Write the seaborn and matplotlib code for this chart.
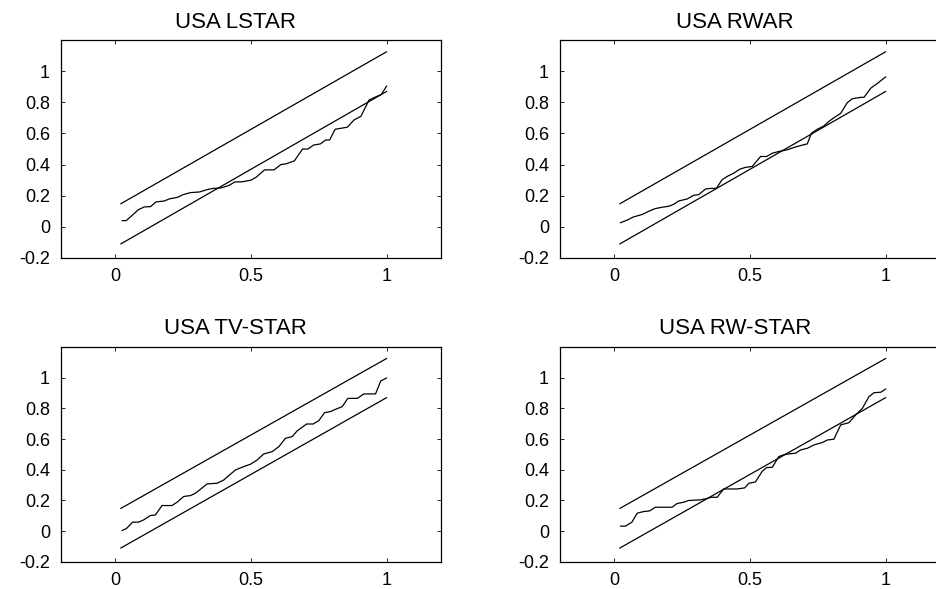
# -*- coding: utf-8 -*-
"""
Periodogrammes cumules (USA) avec bandes de confiance - 4 modeles.
"""

import matplotlib
matplotlib.use("Agg")
import matplotlib.pyplot as plt
import seaborn as sns
import pandas as pd

# Bandes de confiance (extremites des droites)
BAND_X     = [0.02, 1.0]
BAND_UPPER = [0.148, 1.125]
BAND_LOWER = [-0.11, 0.87]

# USA LSTAR
lstar_x = [0.025, 0.04, 0.06, 0.085, 0.107, 0.13, 0.15, 0.18, 0.2, 0.23, 0.25, 0.277,
           0.31, 0.34, 0.36, 0.39, 0.42, 0.44, 0.47, 0.5, 0.52, 0.55, 0.585, 0.61,
           0.63, 0.66, 0.69, 0.71, 0.73, 0.756, 0.775, 0.79, 0.81, 0.855, 0.88,
           0.905, 0.935, 0.96, 0.98, 1.0]
lstar_y = [0.04, 0.04, 0.07, 0.11, 0.128, 0.13, 0.16, 0.166, 0.18, 0.19, 0.207, 0.22,
           0.224, 0.24, 0.247, 0.25, 0.267, 0.288, 0.29, 0.30, 0.32, 0.366, 0.366, 0.40,
           0.405, 0.424, 0.50, 0.50, 0.525, 0.533, 0.558, 0.558, 0.627, 0.64, 0.687,
           0.71, 0.815, 0.835, 0.85, 0.905]

# USA RWAR
rwar_x = [0.022, 0.047, 0.071, 0.102, 0.127, 0.15, 0.176, 0.2, 0.219, 0.237, 0.268,
          0.293, 0.311, 0.336, 0.354, 0.376, 0.397, 0.416, 0.44, 0.463, 0.483, 0.508,
          0.539, 0.561, 0.582, 0.606, 0.637, 0.662, 0.686, 0.711, 0.726, 0.748, 0.772,
          0.791, 0.815, 0.834, 0.858, 0.877, 0.908, 0.92, 0.945, 0.969, 1.0]
rwar_y = [0.026, 0.043, 0.064, 0.079, 0.10, 0.117, 0.126, 0.132, 0.145, 0.166, 0.179,
          0.203, 0.207, 0.243, 0.247, 0.247, 0.303, 0.324, 0.345, 0.371, 0.382, 0.388,
          0.452, 0.452, 0.473, 0.484, 0.495, 0.51, 0.522, 0.533, 0.601, 0.627, 0.648,
          0.678, 0.708, 0.729, 0.797, 0.823, 0.832, 0.832, 0.891, 0.921, 0.964]

# USA TV-STAR
tvstar_x = [0.025, 0.041, 0.064, 0.086, 0.105, 0.129, 0.148, 0.172, 0.209, 0.228, 0.252,
            0.277, 0.295, 0.314, 0.338, 0.375, 0.4, 0.418, 0.443, 0.474, 0.498, 0.523,
            0.547, 0.578, 0.603, 0.627, 0.652, 0.67, 0.705, 0.729, 0.75, 0.771, 0.793,
            0.812, 0.836, 0.857, 0.892, 0.916, 0.959, 0.978, 1.0]
tvstar_y = [0.004, 0.017, 0.059, 0.059, 0.074, 0.102, 0.106, 0.167, 0.167, 0.189, 0.226,
            0.232, 0.247, 0.273, 0.308, 0.312, 0.334, 0.362, 0.399, 0.421, 0.436, 0.464,
            0.503, 0.518, 0.551, 0.605, 0.616, 0.653, 0.698, 0.698, 0.72, 0.772, 0.779,
            0.794, 0.811, 0.865, 0.865, 0.894, 0.894, 0.978, 0.998]

# USA RW-STAR
rwstar_x = [0.022, 0.041, 0.065, 0.084, 0.108, 0.13, 0.151, 0.182, 0.213, 0.231, 0.256,
            0.274, 0.317, 0.342, 0.357, 0.379, 0.403, 0.428, 0.453, 0.48, 0.496, 0.52,
            0.545, 0.561, 0.582, 0.606, 0.631, 0.668, 0.686, 0.711, 0.736, 0.766, 0.785,
            0.809, 0.834, 0.865, 0.889, 0.914, 0.938, 0.957, 0.982, 1.0]
rwstar_y = [0.033, 0.033, 0.059, 0.117, 0.128, 0.132, 0.156, 0.156, 0.156, 0.18, 0.189,
            0.2, 0.204, 0.213, 0.221, 0.221, 0.275, 0.275, 0.275, 0.282, 0.312, 0.321,
            0.39, 0.414, 0.416, 0.486, 0.501, 0.508, 0.529, 0.54, 0.562, 0.577, 0.594,
            0.599, 0.692, 0.707, 0.757, 0.8, 0.876, 0.902, 0.905, 0.926]

TITRES = ["USA LSTAR", "USA RWAR", "USA TV-STAR", "USA RW-STAR"]
SERIES = [(lstar_x, lstar_y), (rwar_x, rwar_y), (tvstar_x, tvstar_y), (rwstar_x, rwstar_y)]

X_TICKS = [0, 0.5, 1]
X_LABELS = ["0", "0.5", "1"]
Y_TICKS = [-0.2, 0, 0.2, 0.4, 0.6, 0.8, 1]
Y_LABELS = ["-0.2", "0", "0.2", "0.4", "0.6", "0.8", "1"]

# Positions des axes (fraction de la figure)
POSITIONS = [
    [0.0651, 0.562, 0.4055, 0.370],
    [0.5977, 0.562, 0.4055, 0.370],
    [0.0651, 0.046, 0.4055, 0.365],
    [0.5977, 0.046, 0.4055, 0.365],
]


def tracer():
    sns.set_theme(style="white")
    plt.rcParams["font.family"] = ["Liberation Sans", "DejaVu Sans"]

    fig = plt.figure(figsize=(9.37, 5.89), dpi=100)
    fig.patch.set_facecolor("white")

    for pos, titre, (sx, sy) in zip(POSITIONS, TITRES, SERIES):
        ax = fig.add_axes(pos)
        df = pd.DataFrame({"x": sx, "y": sy})
        sns.lineplot(data=df, x="x", y="y", ax=ax, color="black", lw=0.9,
                     estimator=None, sort=False)
        sns.lineplot(x=BAND_X, y=BAND_UPPER, ax=ax, color="black", lw=0.9,
                     estimator=None, sort=False)
        sns.lineplot(x=BAND_X, y=BAND_LOWER, ax=ax, color="black", lw=0.9,
                     estimator=None, sort=False)

        ax.set_xlim(-0.2, 1.2)
        ax.set_ylim(-0.2, 1.2)
        ax.set_xticks(X_TICKS)
        ax.set_xticklabels(X_LABELS, fontsize=13)
        ax.set_yticks(Y_TICKS)
        ax.set_yticklabels(Y_LABELS, fontsize=13)
        ax.set_xlabel("")
        ax.set_ylabel("")
        ax.tick_params(direction="in", length=3, width=0.6, color="black",
                       labelcolor="black", top=True, right=True,
                       bottom=True, left=True)
        ax.tick_params(axis="y", pad=8)
        ax.tick_params(axis="x", pad=7)
        for sp in ax.spines.values():
            sp.set_visible(True)
            sp.set_color("black")
            sp.set_linewidth(0.9)
        ax.set_title(titre, fontsize=16, x=0.46, pad=9, color="black")

    fig.savefig("out.png", dpi=100, facecolor="white")
    plt.close(fig)


if __name__ == "__main__":
    tracer()
